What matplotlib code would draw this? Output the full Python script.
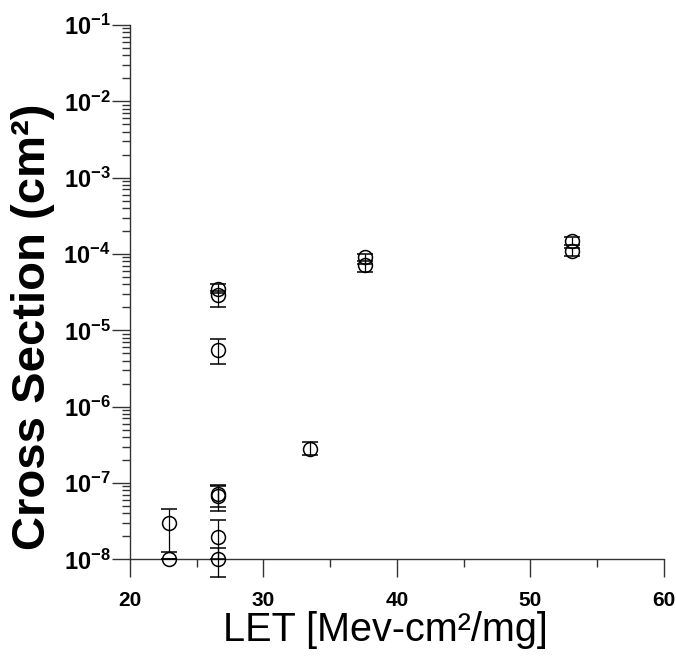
import matplotlib
matplotlib.use('Agg')
import matplotlib.pyplot as plt
from matplotlib.ticker import FixedLocator, LogLocator, NullFormatter

plt.rcParams['font.family'] = ['Liberation Sans', 'DejaVu Sans']
plt.rcParams['mathtext.fontset'] = 'custom'
plt.rcParams['mathtext.rm'] = 'Liberation Sans:bold'
plt.rcParams['mathtext.bf'] = 'Liberation Sans:bold'
plt.rcParams['mathtext.it'] = 'Liberation Sans:bold'

# measured points (LET, cross section, lower / upper error limit)
let = [22.9, 22.9, 26.6, 26.6, 26.6, 26.6, 26.6, 26.6, 26.6, 33.5, 37.6, 37.6, 53.1, 53.1]
xsec = [1.0e-8, 2.95e-8, 1.0e-8, 1.97e-8, 7.2e-8, 6.7e-8, 5.6e-6, 3.5e-5, 2.9e-5,
        2.8e-7, 9.0e-5, 7.1e-5, 1.5e-4, 1.1e-4]
err_lo = [1.0e-8, 1.26e-8, 5.8e-9, 1.0e-8, 4.8e-8, 4.3e-8, 3.6e-6, 3.1e-5, 2.0e-5,
          2.3e-7, 7.5e-5, 5.8e-5, 1.3e-4, 9.5e-5]
err_hi = [1.0e-8, 4.5e-8, 1.4e-8, 3.3e-8, 9.4e-8, 9.0e-8, 7.8e-6, 4.0e-5, 3.3e-5,
          3.4e-7, 1.0e-4, 8.1e-5, 1.65e-4, 1.2e-4]

xticks = [20, 30, 40, 50, 60]
xminor = [25, 35, 45, 55]
exps = [-8, -7, -6, -5, -4, -3, -2, -1]

fig = plt.figure(figsize=(6.76, 6.56), dpi=100)
ax = fig.add_axes([0.1923, 0.1474, 0.7899, 0.8145])

lower = [y - lo for y, lo in zip(xsec, err_lo)]
upper = [hi - y for y, hi in zip(xsec, err_hi)]
eb = ax.errorbar(let, xsec, yerr=[lower, upper], fmt='o', mfc='none', mec='black',
                 mew=1.1, ms=10, ecolor='black', elinewidth=0.9, capsize=6,
                 capthick=1.0, clip_on=False, zorder=3)
for art in eb.lines[1] + eb.lines[2]:
    art.set_clip_on(False)
eb.lines[0].set_clip_on(False)

ax.set_yscale('log')
ax.set_ylim(1e-8, 1e-1)
ax.set_xlim(20, 60)

ax.spines['top'].set_visible(False)
ax.spines['right'].set_visible(False)
for s in ['left', 'bottom']:
    ax.spines[s].set_linewidth(1.0)
    ax.spines[s].set_color('#333333')

ax.xaxis.set_major_locator(FixedLocator(xticks))
ax.xaxis.set_minor_locator(FixedLocator(xminor))
ax.set_xticklabels([str(v) for v in xticks], fontsize=15, fontweight='bold')
ax.tick_params(axis='x', which='major', direction='out', length=13, width=1.0,
               color='#333333', pad=10)
ax.tick_params(axis='x', which='minor', direction='out', length=6, width=1.0,
               color='#333333')

ax.yaxis.set_major_locator(FixedLocator([10.0 ** e for e in exps]))
ax.yaxis.set_minor_locator(LogLocator(base=10, subs=range(2, 10), numticks=20))
ax.yaxis.set_minor_formatter(NullFormatter())
ax.set_yticklabels(['$10^{%d}$' % e for e in exps], fontsize=17)
ax.tick_params(axis='y', which='major', direction='out', length=13, width=1.0,
               color='#333333', pad=1)
ax.tick_params(axis='y', which='minor', direction='out', length=6, width=1.0,
               color='#333333')

ax.set_xlabel('LET [Mev-cm\u00b2/mg]', fontsize=28.5)
ax.xaxis.set_label_coords(0.4775, -0.097)
ax.set_ylabel('Cross Section (cm\u00b2)', fontsize=34, fontweight='bold')
ax.yaxis.set_label_coords(-0.14, 0.435)

fig.savefig('out.png', dpi=100)
